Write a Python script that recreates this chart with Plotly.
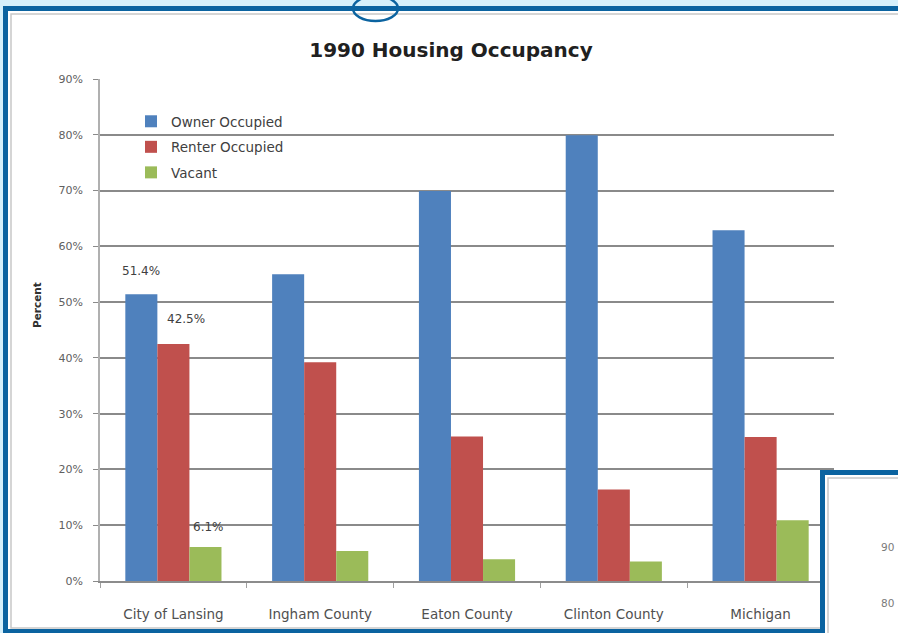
import plotly.graph_objects as go

categories = ["City of Lansing", "Ingham County", "Eaton County", "Clinton County", "Michigan"]
owner = [51.4, 55.0, 69.9, 79.9, 62.9]
renter = [42.5, 39.2, 25.9, 16.4, 25.8]
vacant = [6.1, 5.4, 3.9, 3.5, 10.9]
series_names = ["Owner Occupied", "Renter Occupied", "Vacant"]
colors = ["#4F81BD", "#C0504D", "#9BBB59"]
y_ticks = [0, 10, 20, 30, 40, 50, 60, 70, 80, 90]

W, H = 898, 633
L, R, T, B = 100, 64, 79, 52
PW, PH = W - L - R, H - T - B

def px(x):
    return (x - L) / PW

def py(y):
    return (H - B - y) / PH

FONT = "DejaVu Sans"
fig = go.Figure()
for i, (name, vals) in enumerate(zip(series_names, [owner, renter, vacant])):
    fig.add_trace(go.Bar(
        x=categories, y=vals, name=name, legendgroup=name,
        marker=dict(color=colors[i], line=dict(width=0)),
    ))

# data labels for the first group
label_specs = [(owner[0], -32, 23), (renter[0], 13, 25), (vacant[0], 35, 20)]
for val, xs, ys in label_specs:
    fig.add_annotation(x=categories[0], y=val, text=f"{val:.1f}%", showarrow=False,
                       xshift=xs, yshift=ys, yanchor="middle", xanchor="center",
                       font=dict(family=FONT, size=12, color="#404040"))

# y axis title
fig.add_annotation(xref="paper", yref="paper", x=px(37), y=py(305), text="<b>Percent</b>",
                   textangle=-90, showarrow=False, xanchor="center", yanchor="middle",
                   font=dict(family=FONT, size=10.5, color="#303030"))

# partial second chart labels
for txt, yy in [("90", 547), ("80", 603)]:
    fig.add_annotation(xref="paper", yref="paper", x=px(879), y=py(yy), text=txt, xanchor="left",
                       yanchor="middle", showarrow=False,
                       font=dict(family=FONT, size=10.5, color="#7a7a7a"))

shapes = [
    dict(type="rect", xref="paper", yref="paper", x0=px(5.5), x1=px(915), y0=py(8.5), y1=py(631.5),
         line=dict(color="#0B63A0", width=5), fillcolor="white", layer="below"),
    dict(type="rect", xref="paper", yref="paper", x0=px(11), x1=px(915), y0=py(14), y1=py(628),
         line=dict(color="#C8C8C8", width=1.5), fillcolor="rgba(0,0,0,0)", layer="below"),
    dict(type="rect", xref="paper", yref="paper", x0=px(822.5), x1=px(915), y0=py(472.5), y1=py(650),
         line=dict(color="#0B63A0", width=5), fillcolor="white", layer="above"),
    dict(type="rect", xref="paper", yref="paper", x0=px(828), x1=px(915), y0=py(478), y1=py(650),
         line=dict(color="#C8C8C8", width=1.5), fillcolor="rgba(0,0,0,0)", layer="above"),
    dict(type="circle", xref="paper", yref="paper", x0=px(353), x1=px(398), y0=py(-4), y1=py(21),
         line=dict(color="#0B63A0", width=2.5), fillcolor="rgba(0,0,0,0)", layer="above"),
]

fig.update_layout(
    width=W, height=H,
    margin=dict(l=L, r=R, t=T, b=B),
    paper_bgcolor="#D6F0FB",
    plot_bgcolor="rgba(0,0,0,0)",
    barmode="group", bargap=0.345, bargroupgap=0,
    shapes=shapes,
    title=dict(text="<b>1990 Housing Occupancy</b>", x=451 / W, xref="container", xanchor="center",
               y=1 - 50 / H, yref="container", yanchor="middle",
               font=dict(family=FONT, size=20, color="#202020")),
    legend=dict(x=px(131), y=py(106), xanchor="left", yanchor="top",
                bgcolor="rgba(0,0,0,0)", tracegroupgap=5,
                font=dict(family=FONT, size=13.5, color="#404040")),
    showlegend=True,
    xaxis=dict(showgrid=False, showline=True, linecolor="#8c8c8c", linewidth=1.5,
               ticks="outside", tickson="boundaries", ticklen=5, tickcolor="#a0a0a0",
               ticklabelstandoff=20,
               tickfont=dict(family=FONT, size=13.5, color="#505050")),
    yaxis=dict(range=[0, 90], tickvals=y_ticks, ticktext=[f"{v}%" for v in y_ticks],
               showgrid=True, gridcolor="#8a8a8a", gridwidth=1.5,
               showline=True, linecolor="#b0b0b0", linewidth=1.5,
               ticks="outside", ticklen=5, tickcolor="#8a8a8a", ticklabelstandoff=8,
               zeroline=False,
               tickfont=dict(family=FONT, size=11, color="#606060")),
)

fig.write_html("out.html", config={"displayModeBar": False},
               post_script="document.body.style.margin='0px';document.body.style.overflow='hidden';")
